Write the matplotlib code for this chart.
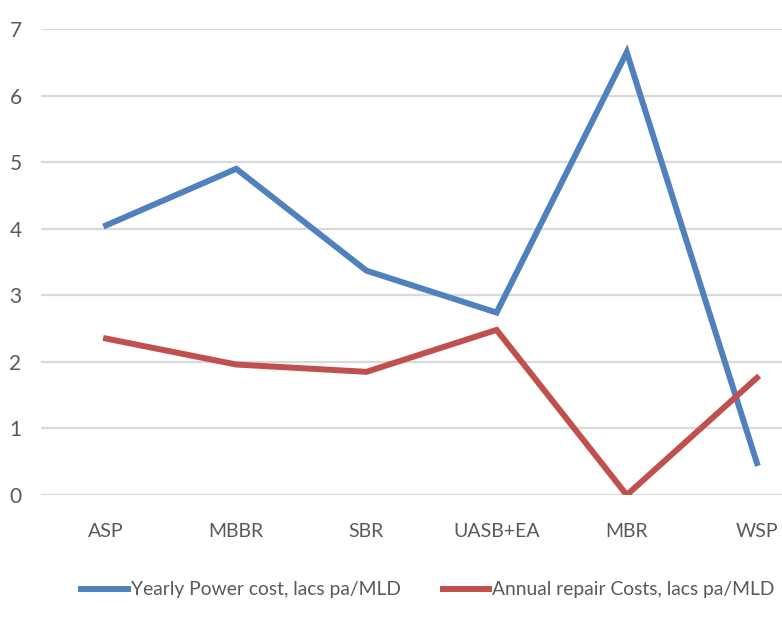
import matplotlib.pyplot as plt

categories = ["ASP", "MBBR", "SBR", "UASB+EA", "MBR", "WSP"]
power_cost = [4.05, 4.9, 3.37, 2.74, 6.65, 0.48]
repair_cost = [2.35, 1.96, 1.85, 2.48, 0.0, 1.76]
y_ticks = [0, 1, 2, 3, 4, 5, 6, 7]

plt.rcParams["font.family"] = ["Lato", "DejaVu Sans"]

fig = plt.figure(figsize=(7.82, 6.19), dpi=100)
W, H = 782, 619
ax = fig.add_axes([41 / W, 1 - 495 / H, 781 / W, 466 / H])

x = range(len(categories))
l1, = ax.plot(x, power_cost, color="#4F81BD", lw=4.3, solid_joinstyle="miter",
              label="Yearly Power cost, lacs pa/MLD")
l2, = ax.plot(x, repair_cost, color="#C0504D", lw=4.3, solid_joinstyle="miter",
              label="Annual repair Costs, lacs pa/MLD")

ax.set_xlim(-0.5, len(categories) - 0.5)
ax.set_ylim(0, 7)
ax.set_yticks(y_ticks)
ax.set_xticks(list(x))
ax.set_xticklabels(categories)
ax.grid(axis="y", color="#D9D9D9", lw=1.6)
ax.set_axisbelow(True)
for s in ax.spines.values():
    s.set_visible(False)
ax.tick_params(length=0, labelsize=15, labelcolor="#595959")
ax.tick_params(axis="x", labelsize=14, pad=20)
ax.tick_params(axis="y", pad=14)

fig.legend(handles=[l1, l2], loc="center left", bbox_to_anchor=(64 / W, 1 - 590 / H),
           ncol=2, frameon=False, fontsize=13.9, labelcolor="#595959",
           handlelength=2.4, handletextpad=0.15, columnspacing=2.2)

fig.savefig("out.png", dpi=100)
